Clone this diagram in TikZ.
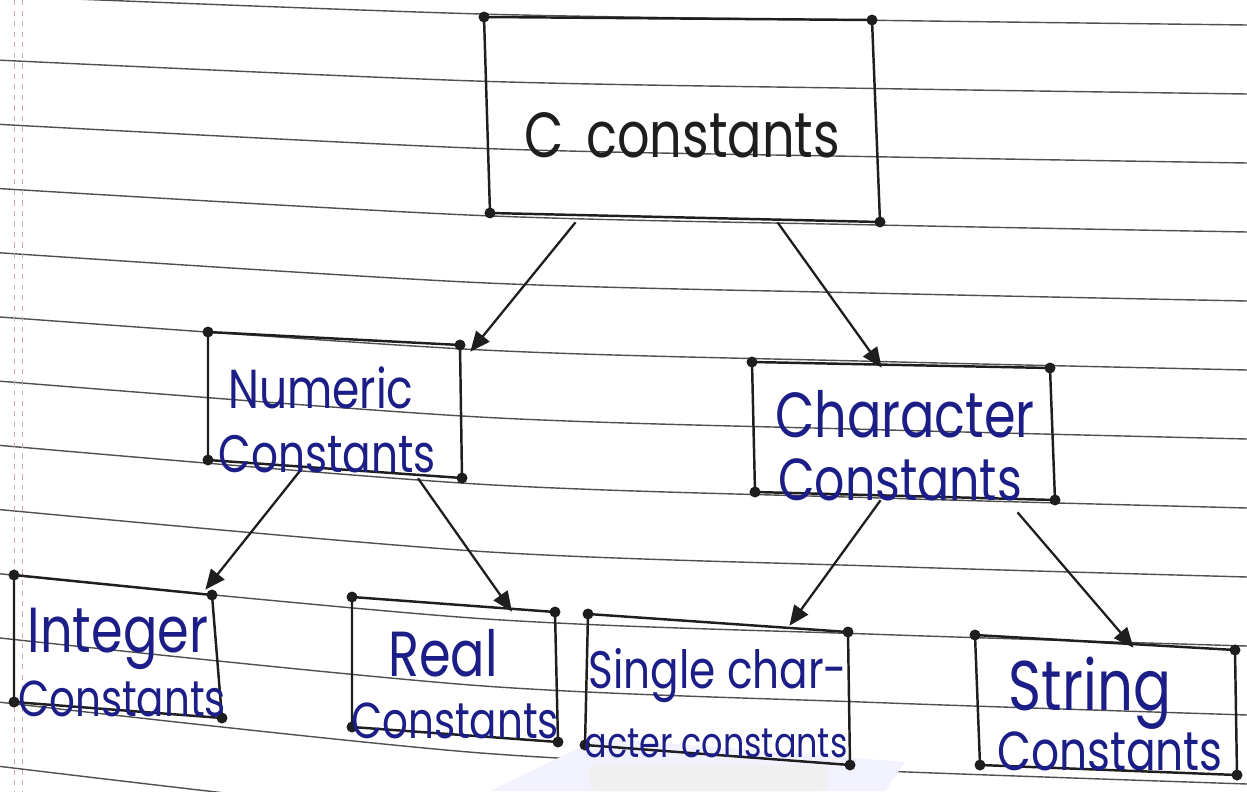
\documentclass[tikz,border=0pt]{standalone}
\usepackage{fontspec}
\setmainfont{Poppins}
\usetikzlibrary{arrows.meta,calc}
\definecolor{ink}{RGB}{28,30,135}
\definecolor{pen}{RGB}{30,30,30}
\definecolor{rulec}{RGB}{80,80,80}
\definecolor{marg}{RGB}{200,170,185}
\newcommand{\hw}[1]{\scalebox{1}[1.25]{#1}}
\begin{document}
\begin{tikzpicture}[x=0.02cm,y=-0.02cm,
  boxedge/.style={draw=pen,line width=1.4pt,line join=round},
  cdot/.style={fill=pen},
  holder/.style={rectangle,inner sep=0pt},
  hwtext/.style={anchor=base,inner sep=0pt,text=ink},
  arr/.style={draw=pen,line width=1.3pt,-{Triangle[length=0.4cm,width=0.34cm]}},
  ruleline/.style={draw=rulec,line width=0.8pt}]
\useasboundingbox (0,0) rectangle (1247,791);
\fill[white] (0,0) rectangle (1247,791);
% ruled lines
\foreach \i in {0,...,12}{
  \pgfmathsetmacro{\L}{-4+64.2*\i}
  \pgfmathsetmacro{\R}{25+69*\i}
  \pgfmathsetmacro{\ma}{\L+0.62*(\R-\L)}
  \pgfmathsetmacro{\mb}{\L+0.84*(\R-\L)}
  \draw[ruleline] plot[smooth,tension=0.5] coordinates {(0,\L) (480,\ma) (880,\mb) (1247,\R)};
}
% margin lines
\draw[marg,line width=0.5pt,dashed] (14,0) -- (14,791);
\draw[marg,line width=0.5pt,dashed] (22,0) -- (22,791);
% watermark
\fill[blue!5] (490,791) -- (600,738) -- (905,762) -- (885,791) -- cycle;
\fill[gray!12,rounded corners=4pt] (590,765) rectangle (828,791);
% box holders
\node[holder,minimum width=7.78cm,minimum height=4cm] (top) at (681.5,118) {};
\node[holder,minimum width=5.08cm,minimum height=2.64cm] (num) at (335,404) {};
\node[holder,minimum width=5.98cm,minimum height=2.62cm] (chr) at (902.5,430.5) {};
\node[holder,minimum width=4.06cm,minimum height=2.5cm] (int) at (115.5,647.5) {};
\node[holder,minimum width=4.08cm,minimum height=2.62cm] (real) at (454,669.5) {};
\node[holder,minimum width=5.26cm,minimum height=2.64cm] (sgl) at (717.5,689) {};
\node[holder,minimum width=5.18cm,minimum height=2.56cm] (str) at (1106.5,706) {};
% hand drawn outlines
\foreach \a/\b/\c/\d/\e/\f/\g/\h in {
  484/17/872/20/880/222/490/213,
  208/332/460/345/462/478/208/460,
  752/362/1050/368/1055/500/755/492,
  14/575/212/595/222/718/14/702,
  352/597/555/612/558/742/352/727,
  588/614/848/632/850/765/585/745,
  975/635/1235/650/1237/775/980/765}{
  \draw[boxedge] (\a,\b) -- (\c,\d) -- (\e,\f) -- (\g,\h) -- cycle;
  \foreach \px/\py in {\a/\b,\c/\d,\e/\f,\g/\h}{\fill[cdot] (\px,\py) circle (0.11cm);}
}
% arrows
\draw[arr] ($(top.south)+(-106,4)$) -- ($(num.north east)+(8,14)$);
\draw[arr] ($(top.south)+(96,4)$) -- ($(chr.north west)+(129,3)$);
\draw[arr] ($(num.south)+(-33,-2)$) -- ($(int.north east)+(-12,5)$);
\draw[arr] ($(num.south)+(83,8)$) -- ($(real.north)+(58,8)$);
\draw[arr] ($(chr.south)+(-22,4)$) -- ($(sgl.north)+(72,3)$);
\draw[arr] ($(chr.south)+(115,16)$) -- ($(str.north)+(27,6)$);
% texts
\node[hwtext,text=pen,font=\fontsize{29}{35}\selectfont] (topt) at (682,157) {\hw{C\hspace{0.45em}constants}};
\node[hwtext,font=\fontsize{25}{30}\selectfont] (numa) at (321,408) {\hw{Numeric}};
\node[hwtext,font=\fontsize{24}{29}\selectfont] (numb) at (327,472) {\hw{Constants}};
\node[hwtext,font=\fontsize{29}{34}\selectfont] (chra) at (905,437) {\hw{Character}};
\node[hwtext,font=\fontsize{27}{32}\selectfont] (chrb) at (900,500) {\hw{Constants}};
\node[hwtext,font=\fontsize{29}{34}\selectfont] (inta) at (118,652) {\hw{Integer}};
\node[hwtext,font=\fontsize{23}{28}\selectfont] (intb) at (122,716) {\hw{Constants}};
\node[hwtext,font=\fontsize{29}{34}\selectfont] (reala) at (443,676) {\hw{Real}};
\node[hwtext,font=\fontsize{23}{28}\selectfont] (realb) at (455,738) {\hw{Constants}};
\node[hwtext,font=\fontsize{24}{29}\selectfont] (sgla) at (718,688) {\hw{Single char-}};
\node[hwtext,font=\fontsize{19}{23}\selectfont] (sglb) at (716,757) {\hw{acter constants}};
\node[hwtext,font=\fontsize{32}{38}\selectfont] (stra) at (1090,710) {\hw{String}};
\node[hwtext,font=\fontsize{25}{30}\selectfont] (strb) at (1110,770) {\hw{Constants}};
\end{tikzpicture}
\end{document}
